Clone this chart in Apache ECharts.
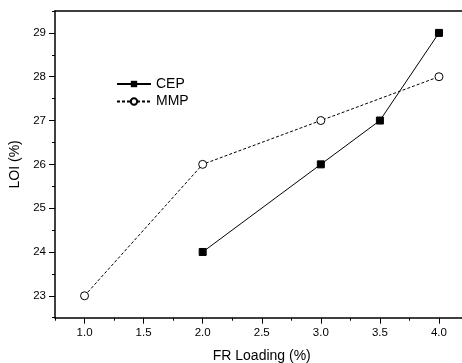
<!DOCTYPE html>
<html><head><meta charset="utf-8">
<script src="https://cdn.jsdelivr.net/npm/echarts@6/dist/echarts.min.js"></script>
<style>html,body{margin:0;padding:0;background:#fff}#c{width:462px;height:363px}</style>
</head><body><div id="c"></div>
<script>
const cepX = [2.0, 3.0, 3.5, 4.0];
const cepY = [24, 26, 27, 29];
const mmpX = [1.0, 2.0, 3.0, 4.0];
const mmpY = [23, 26, 27, 28];
const xMajor = [1.0, 1.5, 2.0, 2.5, 3.0, 3.5, 4.0];
const xMinor = [0.75, 1.25, 1.75, 2.25, 2.75, 3.25, 3.75, 4.25];
const yMajor = [23, 24, 25, 26, 27, 28, 29];
const yMinor = [22.5, 23.5, 24.5, 25.5, 26.5, 27.5, 28.5, 29.5];

const font = 'Liberation Sans, Arial, sans-serif';
const chart = echarts.init(document.getElementById('c'));
const baseX = {type:'value', min:0.75, max:4.25, splitLine:{show:false}};
const baseY = {type:'value', min:22.5, max:29.5, splitLine:{show:false}};
chart.setOption({
  animation:false,
  grid:{left:55, top:11, width:413.5, height:306.7, containLabel:false, outerBoundsMode:'none'},
  legend:{
    orient:'vertical', left:116, top:77, padding:0, itemWidth:34, itemHeight:8, itemGap:3.5,
    textStyle:{fontFamily:font, fontSize:14, color:'#000'},
    data:['CEP','MMP']
  },
  xAxis:[
    Object.assign({}, baseX, {
      position:'bottom',
      name:'FR Loading (%)', nameLocation:'middle', nameGap:31,
      nameTextStyle:{fontFamily:font, fontSize:14, color:'#000'},
      axisLine:{show:true, lineStyle:{color:'#000', width:1.5}},
      axisTick:{show:true, inside:false, length:6, lineStyle:{color:'#000', width:1}, customValues:xMajor},
      axisLabel:{fontFamily:font, fontSize:11.5, color:'#000', margin:9, customValues:xMajor,
        formatter:v=>Number(v).toFixed(1)}
    }),
    Object.assign({}, baseX, {
      position:'bottom',
      axisLine:{show:false},
      axisTick:{show:true, length:3, lineStyle:{color:'#000', width:1}, customValues:xMinor},
      axisLabel:{show:false}
    }),
    Object.assign({}, baseX, {
      position:'top',
      axisLine:{show:true, lineStyle:{color:'#000', width:1.5}},
      axisTick:{show:false}, axisLabel:{show:false}
    })
  ],
  yAxis:[
    Object.assign({}, baseY, {
      position:'left',
      name:'LOI (%)', nameLocation:'middle', nameGap:30, nameRotate:90,
      nameTextStyle:{fontFamily:font, fontSize:14, color:'#000'},
      axisLine:{show:true, lineStyle:{color:'#000', width:1.5}},
      axisTick:{show:true, length:6, lineStyle:{color:'#000', width:1}, customValues:yMajor},
      axisLabel:{fontFamily:font, fontSize:11.5, color:'#000', margin:9, customValues:yMajor}
    }),
    Object.assign({}, baseY, {
      position:'left',
      axisLine:{show:false},
      axisTick:{show:true, length:3, lineStyle:{color:'#000', width:1}, customValues:yMinor},
      axisLabel:{show:false}
    })
  ],
  series:[
    {name:'CEP', type:'line', xAxisIndex:0, yAxisIndex:0,
     data:cepX.map((x,i)=>[x,cepY[i]]),
     symbol:'rect', symbolSize:7,
     itemStyle:{color:'#000', borderColor:'#000'},
     lineStyle:{color:'#000', width:1}},
    {name:'MMP', type:'line', xAxisIndex:0, yAxisIndex:0,
     data:mmpX.map((x,i)=>[x,mmpY[i]]),
     symbol:'circle', symbolSize:8, showAllSymbol:true,
     itemStyle:{color:'#fff', borderColor:'#000', borderWidth:1},
     lineStyle:{color:'#000', width:1, type:[3,2]}}
  ]
});
</script></body></html>
